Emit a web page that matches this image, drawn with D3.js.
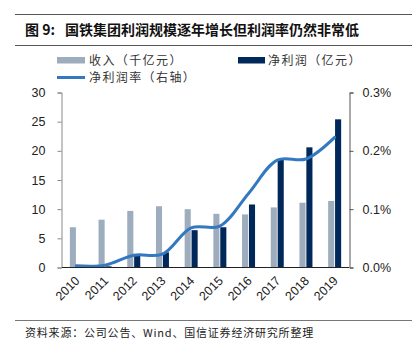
<!DOCTYPE html>
<html><head><meta charset="utf-8">
<script src="https://cdn.jsdelivr.net/npm/d3@7"></script>
<style>body{margin:0;background:#fff}svg{display:block}</style>
</head><body>
<script>
const years = ["2010","2011","2012","2013","2014","2015","2016","2017","2018","2019"];
const revenue = [6.9, 8.2, 9.7, 10.5, 10.0, 9.2, 9.1, 10.3, 11.1, 11.4];
const netProfit = [0.05, 0.2, 2.0, 2.6, 6.4, 6.9, 10.8, 18.5, 20.6, 25.4];
const margin = [0.003, 0.004, 0.021, 0.023, 0.068, 0.071, 0.127, 0.184, 0.186, 0.223];
const leftTicks = [0, 5, 10, 15, 20, 25, 30];
const rightTicks = [0, 0.1, 0.2, 0.3];
const seriesNames = ["收入（千亿元）", "净利润（亿元）", "净利润率（右轴）"];
const titlePrefix = "图 9:";
const title = "国铁集团利润规模逐年增长但利润率仍然非常低";
const source = "资料来源：公司公告、Wind、国信证券经济研究所整理";

const W = 418, H = 352;
const cGray = "#9dadbd", cDark = "#00285a", cLine = "#3479c0";
const cjk = "'Noto Sans CJK SC', sans-serif";
const num = "'Liberation Sans', Arial, sans-serif";

const svg = d3.select("body").append("svg").attr("width", W).attr("height", H);

// frame lines
svg.append("line").attr("x1",15).attr("x2",412).attr("y1",14.5).attr("y2",14.5).attr("stroke","#555").attr("stroke-width",1);
svg.append("line").attr("x1",15).attr("x2",412).attr("y1",45.5).attr("y2",45.5).attr("stroke","#555").attr("stroke-width",1);
svg.append("line").attr("x1",15).attr("x2",412).attr("y1",320.5).attr("y2",320.5).attr("stroke","#777").attr("stroke-width",1);
svg.append("text").attr("x",25).attr("y",35).attr("font-family",cjk).attr("font-weight","bold")
  .attr("font-size",14).attr("fill","#111").style("white-space","pre").text(titlePrefix);
svg.append("text").attr("x",65).attr("y",35).attr("font-family",cjk).attr("font-weight","bold")
  .attr("font-size",14).attr("fill","#111").text(title);
svg.append("text").attr("x",25).attr("y",337).attr("font-family",cjk)
  .attr("font-size",11).attr("letter-spacing",0.8).attr("fill","#222").text(source);

// scales
const x0 = d3.scaleBand().domain(years).range([62, 349]).paddingInner(0.547).paddingOuter(0.2735);
const x1 = d3.scaleBand().domain(["rev","np"]).range([0, x0.bandwidth()]).paddingInner(0.12);
const yL = d3.scaleLinear().domain([0, 30]).range([267.5, 92.5]);
const yR = d3.scaleLinear().domain([0, 0.3]).range([267.5, 92.5]);
const xc = d => x0(d) + x0.bandwidth()/2;

// bars
const g = svg.append("g");
g.selectAll(".rev").data(years).join("rect")
  .attr("x", d => x0(d) + x1("rev")).attr("width", x1.bandwidth())
  .attr("y", (d,i) => yL(revenue[i])).attr("height", (d,i) => yL(0) - yL(revenue[i]))
  .attr("fill", cGray);
g.selectAll(".np").data(years).join("rect")
  .attr("x", d => x0(d) + x1("np")).attr("width", x1.bandwidth())
  .attr("y", (d,i) => yL(netProfit[i])).attr("height", (d,i) => yL(0) - yL(netProfit[i]))
  .attr("fill", cDark);

// line
const line = d3.line().x((d,i) => xc(years[i])).y(d => yR(d)).curve(d3.curveCatmullRom.alpha(0.5));
svg.append("path").attr("d", line(margin)).attr("fill","none").attr("stroke",cLine)
  .attr("stroke-width",3).attr("stroke-linecap","round");

// axes
const axL = svg.append("g").attr("transform","translate(61.5,0)")
  .call(d3.axisLeft(yL).tickValues(leftTicks).tickSize(4).tickPadding(12).tickFormat(d3.format("d")));
axL.select(".domain").attr("stroke","#888");
axL.selectAll(".tick line").attr("stroke","#888");
axL.selectAll("text").attr("font-family",num).attr("font-size",12.5).attr("fill","#222");

const axR = svg.append("g").attr("transform","translate(349.5,0)")
  .call(d3.axisRight(yR).tickValues(rightTicks).tickSize(4).tickPadding(9).tickFormat(d => d.toFixed(1) + "%"));
axR.select(".domain").attr("stroke","#555");
axR.selectAll(".tick line").attr("stroke","#555");
axR.selectAll("text").attr("font-family",num).attr("font-size",12.5).attr("fill","#222");

const axB = svg.append("g").attr("transform","translate(0,267.5)")
  .call(d3.axisBottom(x0).tickSize(0).tickPadding(0));
axB.select(".domain").attr("stroke","#222").attr("d","M62,0H349");
axB.selectAll("text").attr("font-family",num).attr("font-size",12.5).attr("fill","#222")
  .attr("text-anchor","end").attr("dy",0)
  .attr("transform", "translate(4,14) rotate(-45)");

// legend
const lg = svg.append("g").attr("font-family",cjk).attr("font-size",12).attr("fill","#333")
  .attr("letter-spacing", 1.4);
lg.append("rect").attr("x",57).attr("y",57).attr("width",28).attr("height",6.5).attr("fill",cGray);
lg.append("text").attr("x",89).attr("y",64.5).text(seriesNames[0]);
lg.append("rect").attr("x",238).attr("y",57).attr("width",27).attr("height",6.5).attr("fill",cDark);
lg.append("text").attr("x",268).attr("y",64.5).text(seriesNames[1]);
lg.append("line").attr("x1",57).attr("x2",85).attr("y1",77.5).attr("y2",77.5).attr("stroke",cLine).attr("stroke-width",3);
lg.append("text").attr("x",89).attr("y",81.5).text(seriesNames[2]);
</script>
</body></html>
